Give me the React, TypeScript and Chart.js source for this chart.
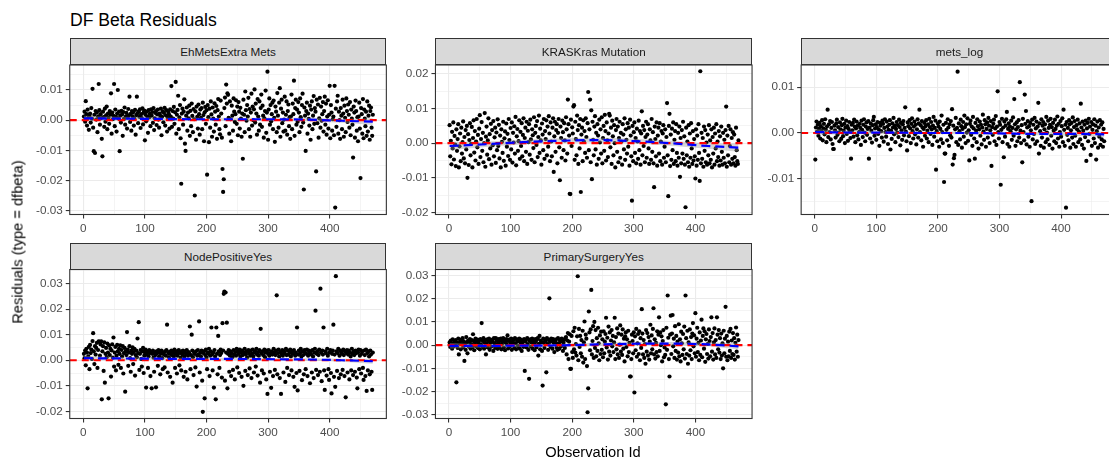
import React, { useEffect, useRef } from "react";
import { Chart, registerables } from "chart.js";

Chart.register(...registerables);

const FONT = '"Liberation Sans", Arial, Helvetica, sans-serif';

// Residual values below are listed in units of 0.0001 (1e-4); observation ids run 1..N.
const UNIT = 1e-4;

const chartTitle = "DF Beta Residuals";
const xAxisTitle = "Observation Id";
const yAxisTitle = "Residuals (type = dfbeta)";

const xTicks = [0, 100, 200, 300, 400];
const xLimits = [-22, 492];
const smoothIds = [1, 60, 120, 180, 240, 300, 360, 420, 470];

// ---------- EhMetsExtra Mets ----------
const ehMetsExtraMets = [
  12, 28, -5, 63, 20, -18, 35, 8, -32, 15,
  22, -8, 40, 5, 104, -25, -103, 18, -109, 30,
  2, 25, -40, 12, 120, 33, -15, 20, 7, -62,
  -120, 28, 10, -22, 38, -5, 16, 45, -30, 22,
  8, -12, 30, 18, 89, -45, 25, 3, 14, 120,
  -20, 35, 11, -38, 22, 100, 6, 28, -103, 15,
  -8, 31, 19, -52, 27, 4, 42, -15, 12, 24,
  -28, 9, 37, 16, 78, -6, 21, -35, 30, 13,
  26, -18, 5, 34, -48, 17, 78, 23, -10, 29,
  11, 36, -26, 20, 7, 39, -14, 25, 32, -67,
  18, -4, 28, 12, -42, 33, 9, 21, -20, 36,
  15, 27, -9, 40, -33, 6, 24, 30, -16, 19,
  35, 2, -25, 22, 14, 38, -50, 11, 29, -7,
  24, 41, -18, 16, 33, -38, 8, 27, 20, -28,
  36, 12, 113, -22, 30, 5, 44, -12, 26, 127,
  -45, 18, 34, 81, -30, 9, 50, -60, -211, 22,
  38, -15, 28, 69, -78, -102, 15, 42, -35, 25,
  6, 48, -52, 31, -20, 55, 14, -40, 37, 3,
  -250, 29, -65, 45, 11, -28, 52, 20, -48, 35,
  8, 40, -30, 58, 17, -70, 26, 44, -12, 33,
  -181, 50, 10, -73, 38, -25, 62, 19, -55, 42,
  5, -38, 56, 28, -15, 47, -62, 33, 70, 12,
  -30, -47, 65, 22, -58, -162, -238, -196, 40, 75,
  -20, 118, 55, 89, 84, 8, -45, 62, 3, -70,
  48, 15, -35, 72, 28, -6, 20, 66, -12, 45,
  -50, 60, 28, -28, 41, 5, -55, 22, -128, 68,
  18, -40, 95, 33, -2, 50, 12, 74, -30, 37,
  -55, 25, 88, -18, 45, 0, 36, 102, -8, 55,
  22, -48, 70, 12, -35, 62, -15, 40, 85, -22,
  48, 15, -58, 6, 30, 98, -42, 25, 161, -65,
  35, 72, -15, 50, -4, 20, 58, -30, 65, 8,
  -72, 45, 28, -40, 90, 15, -25, 58, 106, -55,
  38, 68, -10, 25, -38, 2, 78, -35, 18, 62,
  -48, 30, 52, -20, 10, -62, 12, 85, -30, 55,
  20, 131, -52, 40, 68, -15, 35, -5, 60, 25,
  -40, 72, 10, -22, 50, 88, -8, -230, 42, 15,
  -102, 30, 58, -45, 22, 4, -18, 48, -65, 35,
  62, -30, 15, 80, -12, 40, 28, -170, 68, -10,
  52, -58, 6, 74, -25, 45, -2, 20, 60, -38,
  30, 78, -15, 55, -48, 12, 66, -28, 18, 114,
  -60, 50, 25, -35, 3, 12, -50, 114, -290, 38,
  -22, 62, 81, -45, 28, 0, -62, 40, 15, -30,
  68, 22, -55, 48, 8, -40, 72, 30, -6, 52,
  18, -25, 60, -50, 35, 5, -15, -124, 45, 25,
  -58, 65, 30, -35, 10, -70, 12, 58, -28, -192,
  40, 20, -45, 70, -60, 35, 5, -20, 28, -52,
  62, -38, 15, 48, -65, 30, 42, -25, -52, 18,
];
const ehMetsYTicks = [-0.03, -0.02, -0.01, 0, 0.01];
const ehMetsYLimits = [-0.0313, 0.0183];
const ehMetsSmooth = [6, 5, 4, 3, 3, 3, 2, -2, -5];
const ehMetsSmoothSe = [9, 6, 5, 5, 5, 5, 6, 7, 11];

// ---------- KRASKras Mutation ----------
const krasMutation = [
  52, -38, 7, -61, 33, -15, 60, -47, 21, -4,
  -66, 40, -22, 12, 55, -70, -9, 28, -52, 45,
  -30, 3, 63, -44, 18, -58, 38, -18, 50, -100,
  26, -63, 9, 58, -35, -2, 47, -70, 15, 66,
  -27, 35, -50, 5, 70, -12, 24, -60, 42, 81,
  -40, 12, 61, -22, 30, -55, 0, 87, -68, 19,
  48, -33, 8, 72, -46, 26, -15, 56, -62, 38,
  -6, 64, -38, 17, 45, -57, 31, -20, 69, -8,
  53, -44, 22, -70, 40, 4, -28, 62, -51, 14,
  34, -65, 57, -10, 27, -37, 70, 9, -48, 44,
  -18, 60, -56, 30, 2, 49, -30, 76, -64, 20,
  41, -22, 6, 66, -45, 33, -8, 58, -38, 24,
  72, -52, 15, 45, -25, 62, -60, 36, 3, 55,
  -33, 68, 11, -48, 40, 23, -14, 75, -55, 30,
  50, -5, 64, -40, 18, 80, -28, 42, 8, -62,
  57, 25, -20, 70, -45, 35, 12, 66, -35, 48,
  -10, 78, 28, -52, 60, 5, -38, 45, 72, -83,
  20, 62, -25, 38, 55, -58, 30, 70, -12, -107,
  48, 15, -42, 65, 32, -20, 58, 8, -50, 75,
  40, -30, 126, 55, 22, -146, -147, 68, -8, 46,
  28, 106, 110, -48, 62, 12, -35, 80, 38, -60,
  52, -15, 70, -141, 25, 45, -52, 66, 5, 35,
  -28, 72, 18, -42, 58, 148, -20, 40, 126, -55,
  95, -104, 62, 10, -35, 48, 78, -18, 30, -62,
  55, 22, -45, 68, 2, 40, -30, 75, -58, 15,
  50, -22, 82, 35, -50, 60, 8, -40, 28, 85,
  80, -12, 45, -60, 65, 20, -35, 52, 0, -70,
  38, 70, -25, 48, -55, 15, 62, -42, 30, 5,
  -62, 55, 25, -18, 72, -48, 40, 10, -30, 58,
  -10, 45, -65, 68, 22, -38, -166, 50, -52, 32,
  60, -28, 15, -58, 42, 5, -45, 65, -20, 35,
  -62, 28, 92, -35, 50, -8, 38, -55, 18, 62,
  -42, 25, 55, -15, -60, 40, 8, -48, 70, -25,
  32, -58, -127, 48, 12, -38, 60, -65, 22, 45,
  -30, 58, -52, 5, 35, -62, 28, 52, -42, -10,
  40, -55, 18, 116, -35, -153, 50, 85, -66, 25,
  -48, 42, -20, 60, -60, 10, 35, -52, 55, -28,
  -65, 30, -42, 48, -97, 15, -58, 38, -30, 62,
  -45, 20, -62, -185, 45, -35, 5, -55, 52, -68,
  28, -42, 58, -15, -60, 35, -50, 12, -38, -102,
  40, -65, 22, -48, 55, -28, -109, 208, -58, 30,
  -45, 15, -68, 48, -22, 38, -55, 2, -62, 25,
  -35, 52, -58, 8, -48, 40, -70, 18, -30, 45,
  -62, 28, -15, 55, -52, 5, -40, 35, -65, 20,
  -50, 48, -25, -62, 30, -42, 10, -58, 38, 106,
  -68, 22, -35, 50, -55, -8, 40, -62, 15, -45,
  32, -58, 25, -40, -65, 45, -20, -52, -60, 8,
];
const krasYTicks = [-0.02, -0.01, 0, 0.01, 0.02];
const krasYLimits = [-0.0206, 0.0226];
const krasSmooth = [-8, -3, 3, 7, 9, 6, 0, -8, -13];
const krasSmoothSe = [12, 8, 7, 7, 7, 7, 7, 8, 12];

// ---------- mets_log ----------
const metsLog = [
  -58, 12, 25, 3, 18, -6, 9, 22, -12, 15,
  4, 28, -16, 10, 20, -3, 30, 7, -20, 14,
  51, -9, 19, 2, 26, -14, 11, 24, -24, -35,
  -35, 16, 6, -10, 21, 29, -4, 13, 1, -18,
  23, 8, -13, 17, 31, -7, 5, 20, -22, 12,
  27, -2, 15, -17, 9, 24, 3, -11, -56, 18,
  6, 22, -8, 29, 14, -20, 10, 25, -5, 16,
  -14, 2, 20, 11, -26, 27, 7, -9, 18, 30,
  1, -18, 14, 23, -4, 9, 26, -56, 12, -12,
  21, 5, -21, 17, 28, 35, -6, 10, 19, -15,
  13, 24, -2, 8, -28, 22, 16, 4, -10, 27,
  20, -19, 11, 30, 2, -8, 25, 14, -24, 7,
  18, 28, -36, 5, -13, 21, 12, 33, -3, 16,
  -20, 9, 24, 1, 17, -9, 29, 13, -27, 22,
  6, -15, 19, 26, -5, 11, 56, 3, -18, -38,
  23, 15, -7, 28, 10, -22, 20, 32, 4, -12,
  14, 25, -3, 18, -25, 8, 30, -10, 21, 51,
  2, 17, -16, 26, 12, -30, 9, 22, -6, 15,
  28, -12, 5, 19, -20, 31, 13, -2, 24, 8,
  -26, 16, 35, -8, 11, 27, -80, 4, -18, 21,
  14, -30, 25, 9, -14, 38, 2, -22, 18, -107,
  -45, -45, 22, 7, -16, 30, 12, -28, 19, -5,
  26, -10, 52, -69, 16, -55, -48, 8, 33, -20,
  11, 134, -26, 21, 4, -14, 29, 15, -32, 9,
  24, -8, 38, 13, -22, 19, 1, 32, -17, 6,
  -60, 20, 27, -4, 14, -28, 35, 10, -12, -56,
  22, 5, -20, 30, 15, -34, 8, 25, -6, 18,
  -25, 12, 40, 3, -15, 28, 19, -30, 9, 23,
  -10, 33, 16, -22, 6, 26, -72, 13, -4, 20,
  29, -18, 10, 37, -26, 14, 91, 2, -12, 24,
  18, -113, 7, 31, -20, 12, -53, 25, -8, 16,
  30, 46, -24, 9, 21, -30, 14, 4, 27, -15,
  11, 34, -6, 74, 19, -28, 8, 23, -18, 13,
  28, -10, 111, 5, -22, 17, -64, 31, 2, -16,
  84, 20, 48, -25, 12, 26, -8, 15, -30, 22,
  6, -149, 29, -14, 18, -2, 33, -24, 10, 25,
  -18, 14, 66, -45, 21, 4, -28, 30, -10, 16,
  24, -32, 8, 19, -20, 35, 1, -14, 27, 11,
  -26, 18, 31, -6, 13, -34, 22, 5, -18, 29,
  9, -22, 16, 36, -12, 20, -30, 2, 26, -8,
  15, 32, -20, 51, 7, -28, 18, -163, 24, -4,
  11, -16, 28, 19, -32, 6, 22, -10, 34, -24,
  13, 26, -6, -30, 17, 8, 29, -20, 3, 21,
  -14, 64, 12, -26, 25, 5, -34, 18, -9, 27,
  -61, 10, 22, -18, 31, -2, 14, -48, 24, -28,
  7, 19, -12, 30, -22, 16, -58, 4, 25, -32,
  12, -8, 28, -26, 18, -14, 23, -30, 9, -18,
];
const metsLogYTicks = [-0.01, 0, 0.01];
const metsLogYLimits = [-0.0178, 0.01485];
const metsLogSmooth = [2, 1, 1, 0, 0, -1, -2, -2, -3];
const metsLogSmoothSe = [6, 4, 3, 3, 3, 3, 3, 4, 6];

// ---------- NodePositiveYes ----------
const nodePositive = [
  25, 8, 38, -20, 45, 30, -110, 15, 52, -35,
  60, 28, 42, 5, 75, 106, 35, -15, 55, 22,
  48, 68, -30, 40, 74, 72, 18, 62, 74, -153,
  35, 55, -42, 70, -88, 25, 48, 12, 65, 30,
  -149, 58, 20, 45, -64, 38, 62, 10, 89, -25,
  30, 52, -40, 18, 60, 35, -18, 45, 25, 58,
  -30, 40, 15, 55, -52, 28, 48, -123, 35, 20,
  110, 42, -22, 30, 55, 8, -45, 38, 25, 50,
  -15, 32, 45, -60, 20, 38, 12, 85, 28, 149,
  -38, 25, 40, 5, -25, 35, 48, -50, 18, 30,
  42, -107, 22, 35, -30, 15, 40, 28, -62, 32,
  -110, 25, 38, 10, -45, 30, 20, -106, 35, 28,
  -22, 40, 15, 32, -55, 25, 38, 8, -35, 30,
  22, -28, 35, 18, 40, 139, -48, 28, 12, 33,
  -65, 25, 38, 20, -88, 30, 15, 42, -30, 25,
  35, -52, 18, 30, 40, -20, 28, 10, -40, 35,
  22, 38, -65, 15, 30, -45, 25, 40, -75, 18,
  32, 28, 132, -35, 20, 100, 38, 12, -58, 30,
  25, -28, 35, -103, 18, 40, 22, 152, -48, 30,
  15, 38, -80, -202, 28, 35, -149, 20, 42, 10,
  -35, 30, 25, 45, -62, 18, 35, 128, 22, -40,
  30, -107, 40, 15, -153, 128, 25, -55, 95, 35,
  -30, 20, 42, 28, -68, 145, 38, 260, 269, -80,
  265, 30, 147, -110, 25, 40, -45, 18, 35, -62,
  28, 12, -38, 40, 22, -75, 32, 18, 45, -28,
  35, 25, -50, 42, 15, 30, -65, 38, 20, -100,
  30, 45, -42, 22, 35, 10, -58, 40, 28, -32,
  18, 38, -70, 25, 42, 15, -48, 30, 35, -25,
  45, 22, -60, 32, 18, 40, -88, 123, 28, -40,
  35, 20, -52, 42, 12, 30, -75, 38, -132, 25,
  40, 18, -45, 28, -108, 35, 22, -62, 45, 30,
  -38, 20, 38, 254, -55, 28, 42, 15, -70, 32,
  -132, 25, 40, 18, -48, 35, 28, -85, 45, 20,
  -30, 38, 22, -58, 30, 42, 15, -40, 35, 25,
  -65, 40, -104, 18, 30, -50, 128, -118, 22, 38,
  -42, 28, 45, 15, -78, 35, 20, -55, 40, 30,
  -35, 25, 42, -62, 18, 38, 28, -90, 35, 22,
  -48, 40, 15, -70, 30, 45, 194, -38, 25, 35,
  -58, 20, 42, -45, 280, 30, -82, 38, 22, 128,
  -40, -116, 35, 28, -60, 45, 18, -35, -77, 30,
  40, -50, -130, 25, 38, 139, -65, 22, -104, 329,
  35, -42, 28, 45, -70, 18, 38, -55, 30, 25,
  -38, 42, 20, -62, 35, -145, 28, 40, -48, 22,
  38, -75, 30, 15, -40, 45, 25, -58, 35, 20,
  -45, 38, 28, -68, -110, 30, 42, -35, 18, 40,
  -52, 25, 35, -30, -77, 38, 20, -62, 42, -120,
  28, -40, 35, 15, -55, 38, 22, -45, -116, 30,
];
const nodeYTicks = [-0.02, -0.01, 0, 0.01, 0.02, 0.03];
const nodeYLimits = [-0.0228, 0.0355];
const nodeSmooth = [8, 7, 6, 5, 5, 4, 3, 0, -4];
const nodeSmoothSe = [10, 6, 5, 5, 5, 5, 5, 6, 10];

// ---------- PrimarySurgeryYes ----------
const primarySurgery = [
  12, -8, 20, 5, -15, 25, 8, -5, 18, 0,
  22, -160, 10, -12, 28, -40, 6, 15, -18, 24,
  3, 30, -10, 16, -68, 8, -20, 35, 12, -35,
  20, -6, 14, 26, -15, 5, 22, -10, 47, 18,
  -22, 10, 28, -5, 15, 24, -12, 8, 20, -18,
  26, 4, 95, -8, 18, 30, -15, 12, 22, -40,
  6, 25, -10, 16, 28, -20, 10, 20, -6, 24,
  14, -25, 30, 8, -12, 30, 18, 2, -16, 26,
  10, -8, 22, 28, -18, 5, 15, 30, -10, 20,
  -22, 12, 26, 4, 42, -14, 18, 24, -5, 10,
  28, -20, 14, 6, 22, -12, 30, 8, -18, 25,
  16, -4, 20, 28, -15, 10, 24, -25, 12, 18,
  -8, 26, -111, 15, 22, -10, 30, 5, -20, -145,
  18, 25, -6, 12, 28, -15, 20, 8, -22, 26,
  14, -10, 24, 30, -45, 6, 40, -18, 20, 12,
  -25, -174, 28, 10, -12, 22, 16, -117, 30, 5,
  -20, 24, 202, 14, -8, 28, 18, -15, 26, 10,
  -30, 20, 12, 25, -10, -20, 30, 8, -16, 22,
  15, -5, 28, 18, -25, 10, 24, -12, 30, 35,
  -40, 20, 52, -60, 15, 47, -102, -102, 40, -30,
  -55, 60, -18, 75, -32, 5, -45, 38, 297, -65,
  70, -8, 40, -35, 22, -50, 62, -75, 12, 102,
  -60, 45, 28, -90, -289, -186, 145, 55, -22, 68,
  238, -40, 18, 82, -55, 100, -12, 65, -48, 30,
  -25, 75, 8, -65, 42, -38, 58, -20, 25, -52,
  60, -35, 15, 48, 118, -10, 32, -62, 80, -28,
  55, -45, 20, 65, -5, 40, -30, 12, 118, -60,
  35, -18, 72, -40, 50, -55, 2, 85, -28, 45,
  -42, 68, -15, 28, -70, 38, 55, -8, 25, -48,
  62, -30, 10, -135, -135, -60, 45, 18, -35, 55,
  -204, 38, -22, 70, -50, 8, 48, -38, 60, -65,
  30, -12, 155, 50, -40, 22, -55, 5, -80, 65,
  -28, 52, -45, 35, -62, 15, 88, -35, 42, -18,
  70, 159, -40, 25, -58, 10, -30, 60, -48, 45,
  120, -25, 55, 0, 38, -70, 18, 65, -52, -10,
  -42, -255, 75, -20, 214, 32, -60, -135, 45, 127,
  -38, 50, 130, -5, 28, -55, 82, -25, 40, -62,
  15, -32, 90, -48, 25, -70, 58, 8, -42, 48,
  -18, 80, -58, 214, 30, -38, 62, -80, 12, -45,
  68, -22, 35, -60, 50, 95, -5, 42, -35, 138,
  -50, 28, 75, -30, 10, -65, 55, -42, 20, 110,
  -52, 40, 72, -15, 60, -72, 25, 48, -38, 5,
  -58, 68, 18, -48, 35, 120, -28, 52, -62, 12,
  72, -40, 22, -55, 120, 45, -18, 65, -32, 30,
  -60, 50, -45, 8, -100, 62, -35, 28, 165, -50,
  40, -65, 15, -48, 58, -25, 70, -55, 20, -38,
  52, -42, 30, -62, 10, 76, -28, 45, -50, 22,
];
const surgeryYTicks = [-0.03, -0.02, -0.01, 0, 0.01, 0.02, 0.03];
const surgeryYLimits = [-0.0316, 0.0326];
const surgerySmooth = [-3, -3, -2, -1, 3, 6, 7, 3, -5];
const surgerySmoothSe = [12, 7, 6, 6, 7, 7, 7, 8, 13];

// ---------- layout ----------
const PLOT_W = 316.6;
type PanelSpec = {
  title: string;
  values: number[];
  yTicks: number[];
  yLimits: number[];
  smooth: number[];
  smoothSe: number[];
  left: number;
  top: number;
  height: number;
};

const panels: PanelSpec[] = [
  { title: "EhMetsExtra Mets", values: ehMetsExtraMets, yTicks: ehMetsYTicks, yLimits: ehMetsYLimits, smooth: ehMetsSmooth, smoothSe: ehMetsSmoothSe, left: 69.75, top: 65, height: 149.5 },
  { title: "KRASKras Mutation", values: krasMutation, yTicks: krasYTicks, yLimits: krasYLimits, smooth: krasSmooth, smoothSe: krasSmoothSe, left: 435.45, top: 65, height: 149.5 },
  { title: "mets_log", values: metsLog, yTicks: metsLogYTicks, yLimits: metsLogYLimits, smooth: metsLogSmooth, smoothSe: metsLogSmoothSe, left: 801.15, top: 65, height: 149.5 },
  { title: "NodePositiveYes", values: nodePositive, yTicks: nodeYTicks, yLimits: nodeYLimits, smooth: nodeSmooth, smoothSe: nodeSmoothSe, left: 69.75, top: 269.5, height: 149 },
  { title: "PrimarySurgeryYes", values: primarySurgery, yTicks: surgeryYTicks, yLimits: surgeryYLimits, smooth: surgerySmooth, smoothSe: surgerySmoothSe, left: 435.45, top: 269.5, height: 149 },
];

const STRIP_H = 27;
const Y_AXIS_SPACE = 50;
const PAD_TOP = 14;
const PAD_RIGHT = 10;
const X_AXIS_SPACE = 30;

function near(a: number, b: number) {
  return Math.abs(a - b) < 1e-9;
}

function tickList(majors: number[], lo: number, hi: number): number[] {
  const step = majors[1] - majors[0];
  const out: number[] = [];
  const before = majors[0] - step / 2;
  const after = majors[majors.length - 1] + step / 2;
  if (before >= lo) out.push(before);
  for (let i = 0; i < majors.length; i++) {
    out.push(majors[i]);
    if (i < majors.length - 1) out.push((majors[i] + majors[i + 1]) / 2);
  }
  if (after <= hi) out.push(after);
  return out;
}

const panelBorder = {
  id: "panelBorder",
  afterDraw(chart: any) {
    const { ctx, chartArea: a } = chart;
    ctx.save();
    ctx.strokeStyle = "#333333";
    ctx.lineWidth = 1.1;
    ctx.strokeRect(a.left, a.top, a.right - a.left, a.bottom - a.top);
    ctx.restore();
  },
};

function geometry(p: PanelSpec) {
  const canvasLeft = Math.floor(p.left) - Y_AXIS_SPACE;
  const yAxisW = p.left - canvasLeft;
  const canvasTop = Math.floor(p.top) - PAD_TOP;
  const padTop = p.top - canvasTop;
  const width = Math.ceil(yAxisW + PLOT_W + PAD_RIGHT);
  const padRight = width - yAxisW - PLOT_W;
  const height = Math.ceil(padTop + p.height + X_AXIS_SPACE);
  const xAxisH = height - padTop - p.height;
  return { canvasLeft, canvasTop, yAxisW, padTop, width, padRight, height, xAxisH };
}

function Panel({ spec }: { spec: PanelSpec }) {
  const ref = useRef<HTMLCanvasElement>(null);
  const g = geometry(spec);

  useEffect(() => {
    const canvas = ref.current;
    if (!canvas) return;
    const points = spec.values.map((v, i) => ({ x: i + 1, y: v * UNIT }));
    const smoothLine = smoothIds.map((x, i) => ({ x, y: spec.smooth[i] * UNIT }));
    const lower = smoothIds.map((x, i) => ({ x, y: (spec.smooth[i] - spec.smoothSe[i]) * UNIT }));
    const upper = smoothIds.map((x, i) => ({ x, y: (spec.smooth[i] + spec.smoothSe[i]) * UNIT }));
    const zeroLine = [
      { x: xLimits[0], y: 0 },
      { x: xLimits[1], y: 0 },
    ];
    const xList = tickList(xTicks, xLimits[0], xLimits[1]);
    const yList = tickList(spec.yTicks, spec.yLimits[0], spec.yLimits[1]);
    const isMajorX = (v: number) => xTicks.some((t) => near(t, v));
    const isMajorY = (v: number) => spec.yTicks.some((t) => near(t, v));

    const tickFont = { family: FONT, size: 11.7 };

    const chart = new Chart(canvas, {
      type: "scatter",
      data: {
        datasets: [
          {
            type: "line",
            data: smoothLine,
            borderColor: "#0000FF",
            borderWidth: 2.2,
            borderDash: [9, 5],
            pointRadius: 0,
            tension: 0.4,
            cubicInterpolationMode: "monotone",
            fill: false,
            order: 1,
          } as any,
          {
            type: "line",
            data: zeroLine,
            borderColor: "#FF0000",
            borderWidth: 2.2,
            borderDash: [7, 5],
            pointRadius: 0,
            fill: false,
            order: 2,
          } as any,
          {
            type: "line",
            data: lower,
            borderColor: "rgba(0,0,0,0)",
            borderWidth: 0,
            pointRadius: 0,
            tension: 0.4,
            cubicInterpolationMode: "monotone",
            fill: false,
            order: 3,
          } as any,
          {
            type: "line",
            data: upper,
            borderColor: "rgba(0,0,0,0)",
            borderWidth: 0,
            pointRadius: 0,
            tension: 0.4,
            cubicInterpolationMode: "monotone",
            fill: "-1",
            backgroundColor: "rgba(153,153,153,0.4)",
            order: 3,
          } as any,
          {
            type: "scatter",
            data: points,
            pointRadius: 2.1,
            pointBackgroundColor: "#000000",
            pointBorderColor: "#000000",
            pointBorderWidth: 0,
            order: 4,
          } as any,
        ],
      },
      options: {
        responsive: false,
        animation: false,
        devicePixelRatio: 1,
        events: [],
        layout: { padding: { left: 0, top: g.padTop, right: g.padRight, bottom: 0 } },
        plugins: {
          legend: { display: false },
          tooltip: { enabled: false },
          title: { display: false },
        },
        scales: {
          x: {
            type: "linear",
            position: "bottom",
            min: xLimits[0],
            max: xLimits[1],
            afterFit: (s: any) => {
              s.height = g.xAxisH;
            },
            afterBuildTicks: (s: any) => {
              s.ticks = xList.map((v) => ({ value: v }));
            },
            border: { display: false },
            grid: {
              color: "#EBEBEB",
              lineWidth: (c: any) => (c.tick && isMajorX(c.tick.value) ? 1.1 : 0.55),
              drawTicks: true,
              tickLength: 4,
              tickWidth: 1.1,
              tickColor: (c: any) => (c.tick && isMajorX(c.tick.value) ? "#333333" : "rgba(0,0,0,0)"),
            },
            ticks: {
              autoSkip: false,
              maxRotation: 0,
              minRotation: 0,
              padding: 3,
              color: "#4D4D4D",
              font: tickFont,
              callback: (v: any) => (isMajorX(Number(v)) ? String(Math.round(Number(v))) : ""),
            },
          },
          y: {
            type: "linear",
            position: "left",
            min: spec.yLimits[0],
            max: spec.yLimits[1],
            afterFit: (s: any) => {
              s.width = g.yAxisW;
            },
            afterBuildTicks: (s: any) => {
              s.ticks = yList.map((v) => ({ value: v }));
            },
            border: { display: false },
            grid: {
              color: "#EBEBEB",
              lineWidth: (c: any) => (c.tick && isMajorY(c.tick.value) ? 1.1 : 0.55),
              drawTicks: true,
              tickLength: 4,
              tickWidth: 1.1,
              tickColor: (c: any) => (c.tick && isMajorY(c.tick.value) ? "#333333" : "rgba(0,0,0,0)"),
            },
            ticks: {
              autoSkip: false,
              padding: 3,
              color: "#4D4D4D",
              font: tickFont,
              callback: (v: any) => (isMajorY(Number(v)) ? Number(v).toFixed(2) : ""),
            },
          },
        },
      } as any,
      plugins: [panelBorder],
    });
    return () => chart.destroy();
  }, [spec]);

  return (
    <canvas
      ref={ref}
      width={g.width}
      height={g.height}
      style={{
        position: "absolute",
        left: g.canvasLeft,
        top: g.canvasTop,
        width: g.width,
        height: g.height,
      }}
    />
  );
}

function Strip({ spec }: { spec: PanelSpec }) {
  return (
    <div
      style={{
        position: "absolute",
        left: spec.left,
        top: spec.top - STRIP_H,
        width: PLOT_W,
        height: STRIP_H,
        boxSizing: "border-box",
        border: "1.1px solid #333333",
        background: "#D9D9D9",
        color: "#1A1A1A",
        fontSize: 11.7,
        fontFamily: FONT,
        display: "flex",
        alignItems: "center",
        justifyContent: "center",
        whiteSpace: "nowrap",
      }}
    >
      {spec.title}
    </div>
  );
}

export default function App() {
  return (
    <div
      style={{
        position: "fixed",
        left: 0,
        top: 0,
        width: 1109,
        height: 462,
        overflow: "hidden",
        background: "#FFFFFF",
        fontFamily: FONT,
      }}
    >
      <div
        style={{
          position: "absolute",
          left: 70,
          top: 10,
          fontSize: 17.6,
          lineHeight: "20px",
          color: "#000000",
          whiteSpace: "nowrap",
        }}
      >
        {chartTitle}
      </div>
      {panels.map((p) => (
        <Panel key={p.title} spec={p} />
      ))}
      {panels.map((p) => (
        <Strip key={"s" + p.title} spec={p} />
      ))}
      <div
        style={{
          position: "absolute",
          left: 18,
          top: 242,
          transform: "translate(-50%, -50%) rotate(-90deg)",
          fontSize: 14.67,
          color: "#000000",
          whiteSpace: "nowrap",
          lineHeight: "17px",
        }}
      >
        {yAxisTitle}
      </div>
      <div
        style={{
          position: "absolute",
          left: 593,
          top: 452,
          transform: "translate(-50%, -50%)",
          fontSize: 14.67,
          color: "#000000",
          whiteSpace: "nowrap",
          lineHeight: "17px",
        }}
      >
        {xAxisTitle}
      </div>
    </div>
  );
}
